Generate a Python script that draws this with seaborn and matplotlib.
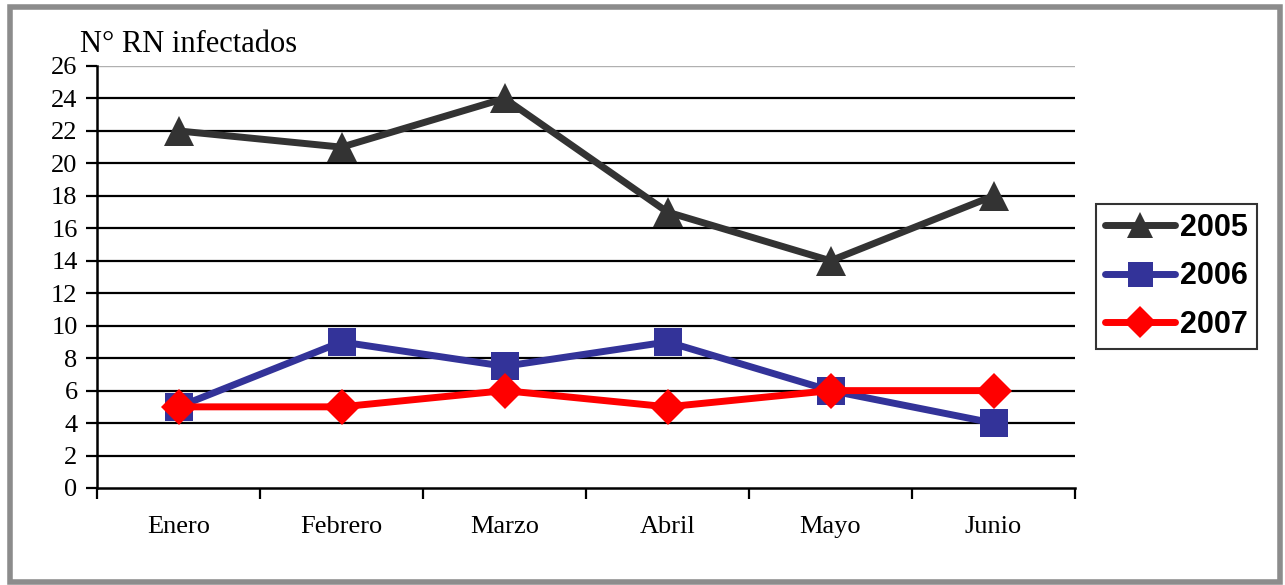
import matplotlib
matplotlib.use("Agg")
import matplotlib.pyplot as plt
from matplotlib.patches import Rectangle
from matplotlib.lines import Line2D
import seaborn as sns
import pandas as pd

months = ["Enero", "Febrero", "Marzo", "Abril", "Mayo", "Junio"]
years = ["2005", "2006", "2007"]
values_2005 = [22, 21, 24, 17, 14, 18]
values_2006 = [5, 9, 7.5, 9, 6, 4]
values_2007 = [5, 5, 6, 5, 6, 6]
y_ticks = list(range(0, 27, 2))

colors = {"2005": "#333333", "2006": "#333399", "2007": "#FF0000"}
markers = {"2005": "^", "2006": "s", "2007": "D"}
msizes = {"2005": 21, "2006": 20, "2007": 18}

rows = []
for yr, vals in zip(years, [values_2005, values_2006, values_2007]):
    for i, (m, v) in enumerate(zip(months, vals)):
        rows.append({"pos": i, "mes": m, "anio": yr, "valor": v})
df = pd.DataFrame(rows)

sns.set_theme(style="white")
plt.rcParams["font.family"] = ["Liberation Serif", "DejaVu Serif"]
plt.rcParams["text.color"] = "black"
plt.rcParams["xtick.color"] = "black"
plt.rcParams["ytick.color"] = "black"

fig = plt.figure(figsize=(12.85, 5.85), dpi=100)
ax = fig.add_axes([97 / 1285, 1 - 488 / 585, 978 / 1285, 422 / 585])

# horizontal gridlines
for t in y_ticks[1:-1]:
    ax.axhline(t, color="black", lw=1.6, zorder=0)
ax.axhline(26, color="#b0b0b0", lw=1.0, zorder=0)

for yr in years:
    sub = df[df["anio"] == yr]
    sns.lineplot(data=sub, x="pos", y="valor", ax=ax, color=colors[yr],
                 lw=5, marker=markers[yr], markersize=msizes[yr],
                 markeredgewidth=0, markerfacecolor=colors[yr],
                 legend=False, zorder=3, clip_on=False)

ax.set_xlim(-0.5, 5.5)
ax.set_ylim(0, 26)
ax.set_yticks(y_ticks)
ax.set_yticklabels([str(t) for t in y_ticks], fontsize=19)
ax.set_xticks([i + 0.5 for i in range(-1, 6)])
ax.set_xticklabels([])
ax.set_xticks(range(6), minor=True)
ax.set_xticklabels(months, minor=True, fontsize=19)
ax.tick_params(axis="x", which="major", direction="out", length=8, width=1.6,
               color="black", bottom=True)
ax.tick_params(axis="x", which="minor", length=0, pad=20)
ax.tick_params(axis="y", direction="out", length=8, width=1.6, color="black",
               left=True, pad=6)
ax.set_xlabel("")
ax.set_ylabel("")
for s in ["top", "right"]:
    ax.spines[s].set_visible(False)
for s in ["left", "bottom"]:
    ax.spines[s].set_color("black")
    ax.spines[s].set_linewidth(1.8)

fig.text(80 / 1285, 1 - 52 / 585, "N° RN infectados", fontsize=22,
         ha="left", va="baseline", color="black")

handles = [Line2D([0], [0], color=colors[yr], lw=5, marker=markers[yr],
                  markersize=msizes[yr] * 0.9, markeredgewidth=0)
           for yr in years]
leg = fig.legend(handles, years, loc="upper left",
                 bbox_to_anchor=(1096 / 1285, 1 - 204 / 585),
                 prop={"family": "Liberation Sans", "weight": "bold", "size": 22},
                 frameon=True, fancybox=False, edgecolor="black",
                 handlelength=2.3, handletextpad=0.15, borderpad=0.3,
                 labelspacing=0.6, borderaxespad=0, labelcolor="black")
leg.get_frame().set_linewidth(1.5)

# outer gray frame
fig.patches.append(Rectangle((10 / 1285, 3 / 585), 1270 / 1285, 575 / 585,
                             transform=fig.transFigure, fill=False,
                             edgecolor="#8c8c8c", lw=4))

fig.savefig("out.png", dpi=100)
